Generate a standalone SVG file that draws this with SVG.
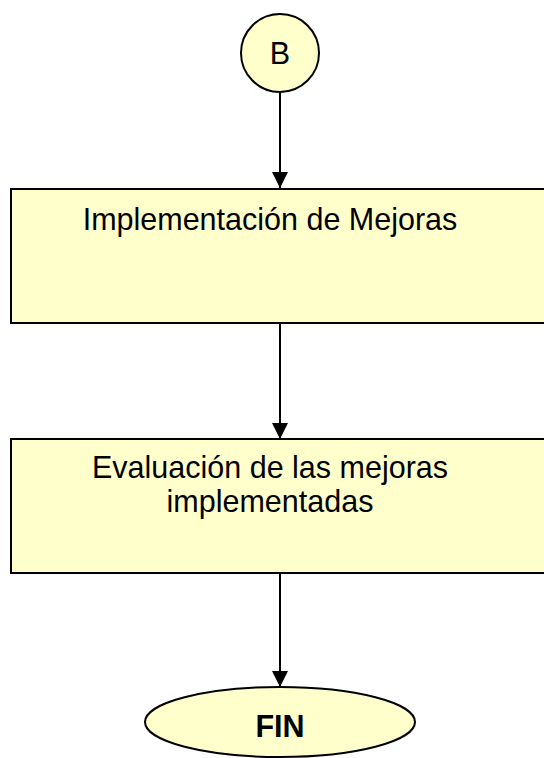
<svg xmlns="http://www.w3.org/2000/svg" width="544" height="758" viewBox="0 0 544 758">
<style>
.shape{fill:#FFFFCC;stroke:#000;stroke-width:2}
.t{font-family:"Liberation Sans",Arial,sans-serif;font-size:30.5px;fill:#000;text-anchor:middle}
.b{font-weight:bold}
.c{stroke:#000;stroke-width:2;fill:none;marker-end:url(#ah)}
</style>
<defs>
<marker id="ah" markerWidth="16" markerHeight="16" viewBox="0 0 16 16" refX="16" refY="8" orient="auto" markerUnits="userSpaceOnUse">
<path d="M0,0 L16,8 L0,16 Z" fill="#000"/>
</marker>
</defs>
<rect width="544" height="758" fill="#fff"/>
<g id="connectors">
<line class="c" x1="280" y1="92" x2="280" y2="188"/>
<line class="c" x1="280" y1="323" x2="280" y2="439"/>
<line class="c" x1="280" y1="573" x2="280" y2="687"/>
</g>
<g id="node-b">
<circle class="shape" cx="280" cy="53" r="39"/>
<text class="t" x="280" y="64">B</text>
</g>
<g id="node-implementacion">
<rect class="shape" x="11" y="189" width="540" height="134"/>
<text class="t" x="270" y="230">Implementación de Mejoras</text>
</g>
<g id="node-evaluacion">
<rect class="shape" x="11" y="439" width="540" height="134"/>
<text class="t" x="270" y="478">Evaluación de las mejoras</text>
<text class="t" x="270" y="512">implementadas</text>
</g>
<g id="node-fin">
<ellipse class="shape" cx="280" cy="722" rx="135" ry="35"/>
<text class="t b" x="280" y="737">FIN</text>
</g>
</svg>
